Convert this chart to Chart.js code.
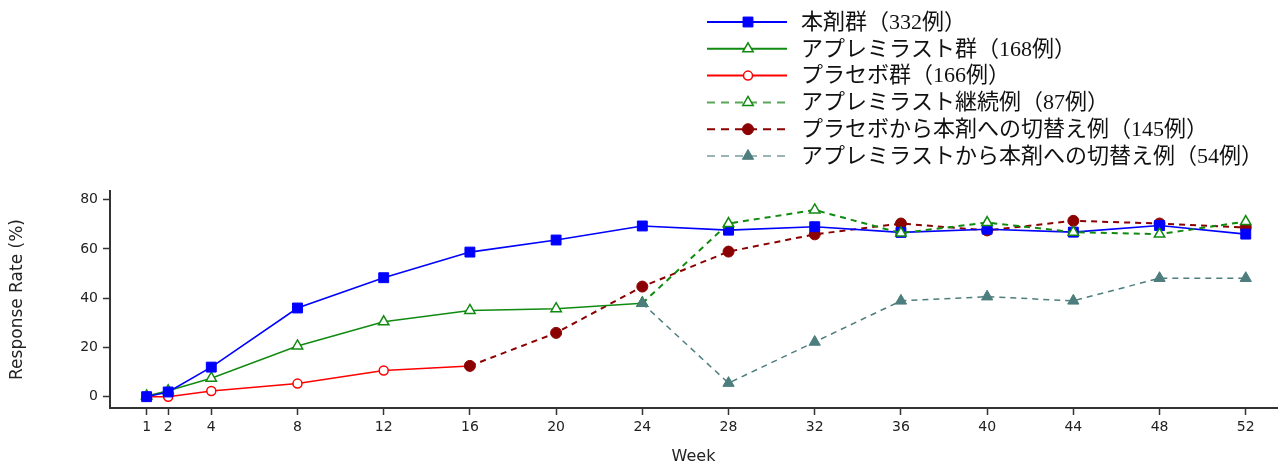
<!DOCTYPE html>
<html lang="ja">
<head>
<meta charset="UTF-8">
<title>Response Rate</title>
<style>
  body { margin: 0; background: #fff; }
  #wrap { width: 1285px; height: 466px; position: relative; }
</style>
<script src="https://cdn.jsdelivr.net/npm/chart.js@4"></script>
</head>
<body>
<div id="wrap"><canvas id="rateChart"></canvas></div>
<script>
// weeks on the x axis (also the tick labels)
const weeks = [1, 2, 4, 8, 12, 16, 20, 24, 28, 32, 36, 40, 44, 48, 52];
const yTicks = [0, 20, 40, 60, 80];

// response rate (%) per week, null = not measured for that group
const drugGroup      = [0, 1.9, 12, 36, 48.3, 58.7, 63.6, 69.3, 67.6, 69, 66.7, 68, 66.8, 69.5, 66];
const apremGroup     = [0.3, 2.4, 7.5, 20.6, 30.4, 35, 35.7, 37.9, null, null, null, null, null, null, null];
const placeboGroup   = [0, 0, 2.3, 5.3, 10.6, 12.5, null, null, null, null, null, null, null, null, null];
const apremContinued = [null, null, null, null, null, null, null, 37.9, 70.3, 75.8, 66.4, 70.7, 66.8, 66, 71.1];
const placeboSwitch  = [null, null, null, null, null, 12.5, 25.9, 44.7, 58.9, 65.9, 70.3, 67.5, 71.4, 70.3, 68.7];
const apremSwitch    = [null, null, null, null, null, null, null, 37.9, 5.5, 22.2, 38.9, 40.6, 38.9, 48.1, 48.1];

function toPoints(values) {
  return weeks.map((w, i) => ({ x: w, y: values[i] })).filter(p => p.y !== null);
}

// legend drawn as a single column above the plot, like the original figure
const columnLegend = {
  id: 'columnLegend',
  afterDraw(chart) {
    const ctx = chart.ctx;
    chart.data.datasets.forEach((ds, i) => {
      const y = 22 + i * 26.8;
      ctx.save();
      ctx.strokeStyle = ds.legendLine || ds.borderColor;
      ctx.lineWidth = 2;
      ctx.setLineDash(ds.borderDash ? [8, 6] : []);
      ctx.beginPath();
      ctx.moveTo(707, y);
      ctx.lineTo(787, y);
      ctx.stroke();
      ctx.setLineDash([]);
      ctx.fillStyle = ds.pointBackgroundColor;
      ctx.strokeStyle = ds.pointBorderColor;
      ctx.lineWidth = ds.pointBorderWidth;
      Chart.helpers.drawPoint(ctx, {
        pointStyle: ds.pointStyle, radius: ds.pointRadius, rotation: 0, borderWidth: ds.pointBorderWidth
      }, 748, y);
      ctx.fillStyle = '#111';
      ctx.font = '22px "Liberation Serif", "Noto Sans CJK JP", serif';
      ctx.textBaseline = 'middle';
      ctx.fillText(ds.label, 801, y + 1);
      ctx.restore();
    });
  }
};

const tickFont = { family: 'DejaVu Sans', size: 14 };

new Chart(document.getElementById('rateChart'), {
  type: 'line',
  data: {
    datasets: [
      {
        label: '本剤群（332例）',
        data: toPoints(drugGroup),
        borderColor: '#0000ff', borderWidth: 1.6,
        pointStyle: 'rect', pointRadius: 7,
        pointBackgroundColor: '#0000ff', pointBorderColor: '#0000ff', pointBorderWidth: 1,
        order: 2
      },
      {
        label: 'アプレミラスト群（168例）',
        data: toPoints(apremGroup),
        borderColor: '#118a11', borderWidth: 1.5,
        pointStyle: 'triangle', pointRadius: 6,
        pointBackgroundColor: '#ffffff', pointBorderColor: '#118a11', pointBorderWidth: 1.5,
        order: 3
      },
      {
        label: 'プラセボ群（166例）',
        data: toPoints(placeboGroup),
        borderColor: '#ff0000', borderWidth: 1.5,
        pointStyle: 'circle', pointRadius: 4.5,
        pointBackgroundColor: '#ffffff', pointBorderColor: '#ff0000', pointBorderWidth: 1.5,
        order: 6
      },
      {
        label: 'アプレミラスト継続例（87例）',
        data: toPoints(apremContinued),
        borderColor: '#118a11', borderWidth: 2, borderDash: [6, 5],
        legendLine: '#5aa55a',
        pointStyle: 'triangle', pointRadius: 6,
        pointBackgroundColor: '#ffffff', pointBorderColor: '#118a11', pointBorderWidth: 1.5,
        order: 1
      },
      {
        label: 'プラセボから本剤への切替え例（145例）',
        data: toPoints(placeboSwitch),
        borderColor: '#8b0000', borderWidth: 2, borderDash: [6, 5],
        pointStyle: 'circle', pointRadius: 5.5,
        pointBackgroundColor: '#8b0000', pointBorderColor: '#8b0000', pointBorderWidth: 1,
        order: 4
      },
      {
        label: 'アプレミラストから本剤への切替え例（54例）',
        data: toPoints(apremSwitch),
        borderColor: '#4d7d7d', borderWidth: 1.5, borderDash: [6, 5],
        legendLine: '#9bb5b5',
        pointStyle: 'triangle', pointRadius: 6.5,
        pointBackgroundColor: '#4d7d7d', pointBorderColor: '#4d7d7d', pointBorderWidth: 1,
        order: 0
      }
    ]
  },
  options: {
    responsive: true,
    maintainAspectRatio: false,
    animation: false,
    layout: { padding: { top: 191, right: 0, left: 0, bottom: 0 } },
    plugins: { legend: { display: false }, tooltip: { enabled: false } },
    scales: {
      x: {
        type: 'linear',
        min: -0.7, max: 53.45,
        afterBuildTicks: scale => { scale.ticks = weeks.map(v => ({ value: v })); },
        afterFit: scale => { scale.height = 58; },
        border: { color: '#333', width: 2 },
        grid: { drawOnChartArea: false, drawTicks: true, tickLength: 7, tickColor: '#333', tickWidth: 1.5 },
        ticks: { color: '#222', font: tickFont, padding: 4, maxRotation: 0, autoSkip: false },
        title: { display: true, text: 'Week', color: '#222', font: { family: 'DejaVu Sans', size: 16 }, padding: { top: 0, bottom: 0 } }
      },
      y: {
        min: -4.6, max: 83.5,
        afterBuildTicks: scale => { scale.ticks = yTicks.map(v => ({ value: v })); },
        afterFit: scale => { scale.width = 110; },
        border: { color: '#333', width: 2 },
        grid: { drawOnChartArea: false, drawTicks: true, tickLength: 7, tickColor: '#333', tickWidth: 1.5 },
        ticks: { color: '#222', font: tickFont, padding: 5 },
        title: { display: true, text: 'Response Rate (%)', color: '#222', font: { family: 'DejaVu Sans', size: 17 }, padding: { top: 7, bottom: 0 } }
      }
    }
  },
  plugins: [columnLegend]
});
</script>
</body>
</html>
